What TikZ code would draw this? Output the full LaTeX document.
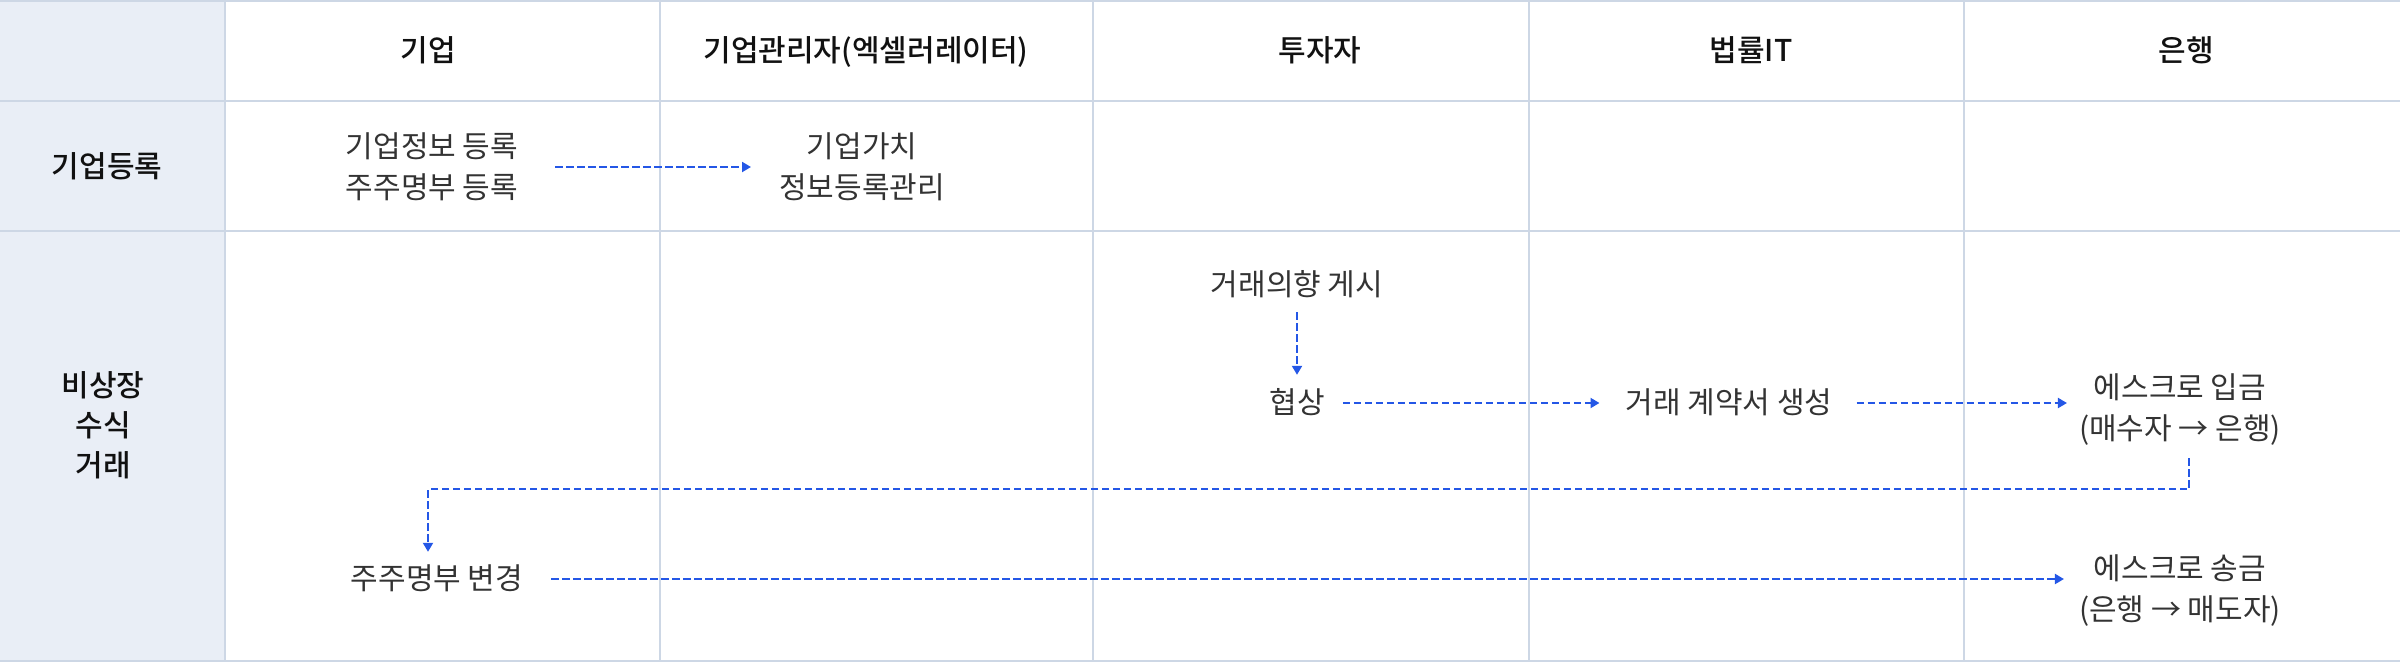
\documentclass[tikz,border=0pt]{standalone}
\usepackage{fontspec}
\setmainfont{Noto Sans CJK KR}[BoldFont={Noto Sans CJK KR Medium}]
\usetikzlibrary{arrows.meta}
\definecolor{gridc}{HTML}{CDD7E5}
\definecolor{stubc}{HTML}{E9EEF6}
\definecolor{flowc}{HTML}{2457E6}
\definecolor{headc}{HTML}{111111}
\definecolor{bodyc}{HTML}{333333}
\begin{document}
\begin{tikzpicture}[x=1pt,y=-1pt,
  gridline/.style={draw=gridc,line width=2pt},
  head/.style={inner sep=0pt,text=headc,font=\fontsize{30}{40}\selectfont\bfseries,align=center},
  body/.style={inner sep=0pt,text=bodyc,font=\fontsize{30}{41}\selectfont,align=center},
  oneline/.style={text height=25.5pt,text depth=4.5pt},
  flow/.style={draw=flowc,line width=2pt,dash pattern=on 7.5pt off 3.5pt,
    -{Triangle[length=9pt,width=10pt]}},
]
\useasboundingbox (0,0) rectangle (2400,662);
% stub column
\fill[stubc] (0,0) rectangle (225,662);
% grid
\foreach \yy in {1,101,231,661}
  \draw[gridline] (0,\yy) -- (2400,\yy);
\foreach \xx in {225,660,1093,1529,1964}
  \draw[gridline] (\xx,0) -- (\xx,662);
% headers
\node[head,oneline] (h1) at (428,51) {기업};
\node[head,oneline] (h2) at (866,51) {기업관리자(엑셀러레이터)};
\node[head,oneline] (h3) at (1320,51) {투자자};
\node[head,oneline] (h4) at (1751,51) {법률IT};
\node[head,oneline] (h5) at (2186,51) {은행};
% stub labels
\node[head,oneline] (s1) at (107,167) {기업등록};
\node[head] (s2) at (103,425) {비상장\\수식\\거래};
% row 1
\node[body] (a) at (432,167) {기업정보 등록\\주주명부 등록};
\node[body] (b) at (862,167) {기업가치\\정보등록관리};
% row 2
\node[body,oneline] (p) at (1297,285) {거래의향 게시};
\node[body,oneline] (q) at (1297,403) {협상};
\node[body,oneline] (r) at (1729,403) {거래 계약서 생성};
\node[body] (e1) at (2180,410) {에스크로 입금\\(매수자 → 은행)};
\node[body,oneline] (m) at (437,579) {주주명부 변경};
\node[body] (e2) at (2180,591) {에스크로 송금\\(은행 → 매도자)};
% connectors
\draw[flow,shorten <=37pt,shorten >=28pt] (a.east) -- (a.east -| b.west);
\draw[flow,shorten <=12pt,shorten >=13pt] (p.south) -- (q.north);
\draw[flow,shorten <=18pt,shorten >=26pt] (q.east) -- (r.west);
\draw[flow,shorten <=24pt,shorten >=12pt] (r.east) -- (r.east -| e1.west);
\draw[flow] ([xshift=9pt,yshift=-12pt]e1.south) -- ++(0,31) -| ([xshift=-9pt,yshift=12pt]m.north);
\draw[flow,shorten <=28pt,shorten >=15pt] (m.east) -- (m.east -| e2.west);
\end{tikzpicture}
\end{document}
